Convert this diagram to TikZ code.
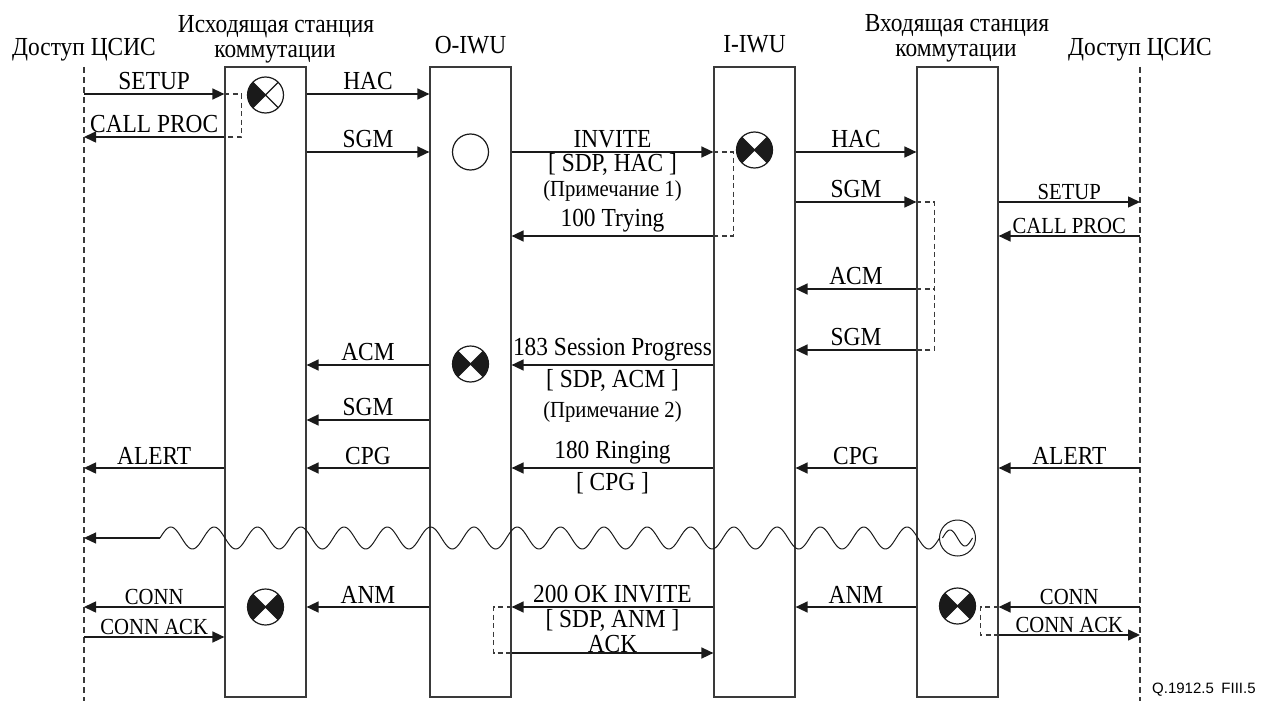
\documentclass[tikz,border=0pt]{standalone}
\usepackage{fontspec}
\setmainfont{Liberation Serif}[FakeStretch=0.9]
\newfontfamily\figfont{Liberation Sans}
\usetikzlibrary{arrows.meta,positioning,calc}
\definecolor{ink}{HTML}{1A1A1A}
\definecolor{rule}{HTML}{3A3A3A}

\tikzset{
  lane/.style={draw=rule, line width=1.2pt, minimum width=81pt, minimum height=630pt, inner sep=0pt},
  access/.style={draw=rule, line width=1.1pt, dash pattern=on 6pt off 4pt},
  msg/.style={draw=ink, line width=1.5pt, -{Triangle[length=12pt,width=11pt]}},
  guard/.style={draw=rule, line width=1.1pt, dash pattern=on 5pt off 3.5pt},
  lbl/.style={font=\fontsize{26}{26}\selectfont, inner sep=3pt},
  slbl/.style={font=\fontsize{23}{24}\selectfont, inner sep=2pt},
  hdr/.style={font=\fontsize{26}{26}\selectfont, inner sep=0pt, anchor=base},
  seize/.style={circle, draw=ink, fill=white, line width=1.2pt, minimum size=36pt, inner sep=0pt},
  seizeh/.style={seize, path picture={
      \fill[ink] (path picture bounding box.center) -- (path picture bounding box.north west)
        -- (path picture bounding box.south west) -- cycle;
      \draw[ink, line width=1.2pt] (path picture bounding box.north west) -- (path picture bounding box.south east)
        (path picture bounding box.north east) -- (path picture bounding box.south west);}},
  seizex/.style={seize, path picture={
      \fill[ink] (path picture bounding box.center) -- (path picture bounding box.north west)
        -- (path picture bounding box.south west) -- cycle;
      \fill[ink] (path picture bounding box.center) -- (path picture bounding box.north east)
        -- (path picture bounding box.south east) -- cycle;
      \draw[ink, line width=1.2pt] (path picture bounding box.north west) -- (path picture bounding box.south east)
        (path picture bounding box.north east) -- (path picture bounding box.south west);}},
  tone/.style={seize, line width=1pt, path picture={
      \draw[ink, line width=1pt, x=1pt, y=1pt, shift={(path picture bounding box.center)}]
        plot[domain=-15:15, samples=40, smooth] (\x, {8*sin(12*(\x+15))});}},
}

\begin{document}
\begin{tikzpicture}[x=1pt, y=-1pt]
  \useasboundingbox (0,0) rectangle (1264,701);

  % headings
  \node[hdr] (hAccL) at (84,56) {Доступ ЦСИС};
  \node[hdr] (hOrig) at (276,33) {Исходящая станция};
  \node[hdr] (hOrigB) at (275,58) {коммутации};
  \node[hdr] (hOiwu) at (470.5,54) {O-IWU};
  \node[hdr] (hIiwu) at (754.5,53) {I-IWU};
  \node[hdr] (hTerm) at (957,32) {Входящая станция};
  \node[hdr] (hTermB) at (956,57) {коммутации};
  \node[hdr] (hAccR) at (1140,56) {Доступ ЦСИС};

  % lifelines
  \node[lane] (orig) at (265.5,382) {};
  \node[lane] (oiwu) at (470.5,382) {};
  \node[lane] (iiwu) at (754.5,382) {};
  \node[lane] (term) at (957.5,382) {};
  \coordinate (accL) at (84,67);
  \coordinate (accLend) at (84,701);
  \coordinate (accR) at (1140,67);
  \coordinate (accRend) at (1140,701);
  \draw[access] (accL) -- (accLend);
  \draw[access] (accR) -- (accRend);

  % set-up phase
  \draw[msg] (accL |- 0,94) -- node[lbl, above] (tSetupL) {SETUP} (orig.west |- 0,94);
  \draw[msg] (orig.east |- 0,94) -- node[lbl, above] (tHacL) {HAC} (oiwu.west |- 0,94);
  \draw[msg] (orig.west |- 0,137) -- node[lbl, above] (tProcL) {CALL PROC} (accL |- 0,137);
  \draw[guard] (orig.west |- 0,94) -- ++(17,0) |- (orig.west |- 0,137);
  \draw[msg] (orig.east |- 0,152) -- node[lbl, above] (tSgmA) {SGM} (oiwu.west |- 0,152);
  \draw[msg] (oiwu.east |- 0,152) -- node[lbl, above] (tInvite) {INVITE}
    node[lbl, below, inner sep=1pt] (tInvSdp) {[ SDP, HAC ]} (iiwu.west |- 0,152);
  \node[slbl, below=1pt of tInvSdp] (tNoteA) {(Примечание 1)};
  \draw[guard] (iiwu.west |- 0,152) -- ++(20,0) |- (iiwu.west |- 0,236);
  \draw[msg] (iiwu.west |- 0,236) -- node[lbl, above] (tTrying) {100 Trying} (oiwu.east |- 0,236);
  \draw[msg] (iiwu.east |- 0,152) -- node[lbl, above] (tHacR) {HAC} (term.west |- 0,152);
  \draw[msg] (iiwu.east |- 0,202) -- node[lbl, above] (tSgmB) {SGM} (term.west |- 0,202);
  \draw[msg] (term.east |- 0,202) -- node[slbl, above] (tSetupR) {SETUP} (accR |- 0,202);
  \draw[msg] (accR |- 0,236) -- node[slbl, above] (tProcR) {CALL PROC} (term.east |- 0,236);
  \draw[msg] (term.west |- 0,289) -- node[lbl, above] (tAcmA) {ACM} (iiwu.east |- 0,289);
  \draw[msg] (term.west |- 0,350) -- node[lbl, above] (tSgmC) {SGM} (iiwu.east |- 0,350);
  \draw[guard] (term.west |- 0,202) -- ++(18,0) |- (term.west |- 0,350);
  \draw[guard] (term.west |- 0,289) -- ++(18,0);

  % progress and alerting
  \draw[msg] (iiwu.west |- 0,365) -- node[lbl, above] (tProg) {183 Session Progress}
    node[lbl, below, inner sep=4pt] (tProgSdp) {[ SDP, ACM ]} (oiwu.east |- 0,365);
  \node[slbl, below=3pt of tProgSdp] (tNoteB) {(Примечание 2)};
  \draw[msg] (oiwu.west |- 0,365) -- node[lbl, above] (tAcmB) {ACM} (orig.east |- 0,365);
  \draw[msg] (oiwu.west |- 0,420) -- node[lbl, above] (tSgmD) {SGM} (orig.east |- 0,420);
  \draw[msg] (orig.west |- 0,468) -- node[lbl, above] (tAlertL) {ALERT} (accL |- 0,468);
  \draw[msg] (oiwu.west |- 0,468) -- node[lbl, above] (tCpgA) {CPG} (orig.east |- 0,468);
  \draw[msg] (iiwu.west |- 0,468) -- node[lbl, above] (tRing) {180 Ringing}
    node[lbl, below, inner sep=4pt] (tRingCpg) {[ CPG ]} (oiwu.east |- 0,468);
  \draw[msg] (term.west |- 0,468) -- node[lbl, above] (tCpgB) {CPG} (iiwu.east |- 0,468);
  \draw[msg] (accR |- 0,468) -- node[lbl, above] (tAlertR) {ALERT} (term.east |- 0,468);

  % ring-back tone
  \coordinate (wEnd) at (160,538);
  \draw[ink, line width=1pt] plot[domain=160:939.5, samples=500, smooth]
    (\x, {538-11*sin(8.3129*(\x-160))});
  \draw[msg, line width=1.2pt] (wEnd) -- (accL |- wEnd);

  % answer phase
  \draw[msg] (orig.west |- 0,607) -- node[slbl, above] (tConnL) {CONN} (accL |- 0,607);
  \draw[msg] (accL |- 0,637) -- node[slbl, above] (tConnAckL) {CONN ACK} (orig.west |- 0,637);
  \draw[msg] (oiwu.west |- 0,607) -- node[lbl, above] (tAnmA) {ANM} (orig.east |- 0,607);
  \draw[msg] (iiwu.west |- 0,607) -- node[lbl, above] (tOk) {200 OK INVITE}
    node[lbl, below, inner sep=2pt] (tOkSdp) {[ SDP, ANM ]} (oiwu.east |- 0,607);
  \draw[msg] (oiwu.east |- 0,653) -- node[lbl, above, inner sep=0pt] (tAck) {ACK} (iiwu.west |- 0,653);
  \draw[guard] (oiwu.east |- 0,607) -- ++(-18,0) |- (oiwu.east |- 0,653);
  \draw[msg] (term.west |- 0,607) -- node[lbl, above] (tAnmB) {ANM} (iiwu.east |- 0,607);
  \draw[msg] (accR |- 0,607) -- node[slbl, above] (tConnR) {CONN} (term.east |- 0,607);
  \draw[msg] (term.east |- 0,635) -- node[slbl, above] (tConnAckR) {CONN ACK} (accR |- 0,635);
  \draw[guard] (term.east |- 0,607) -- ++(-18,0) |- (term.east |- 0,635);

  % switch-through symbols
  \node[seizeh] (sOrig) at (265.5,95) {};
  \node[seize] (sOiwu) at (470.5,152) {};
  \node[seizex] (sIiwu) at (754.5,150) {};
  \node[seizex] (sOiwuB) at (470.5,364) {};
  \node[tone] (sTone) at (957.5,538) {};
  \node[seizex] (sOrigB) at (265.5,607) {};
  \node[seizex] (sTerm) at (957.5,606) {};

  \node[font=\figfont\fontsize{15}{16}\selectfont, anchor=base west, inner sep=0pt] (figId)
    at (1152,693) {Q.1912.5\enspace FIII.5};
\end{tikzpicture}
\end{document}
